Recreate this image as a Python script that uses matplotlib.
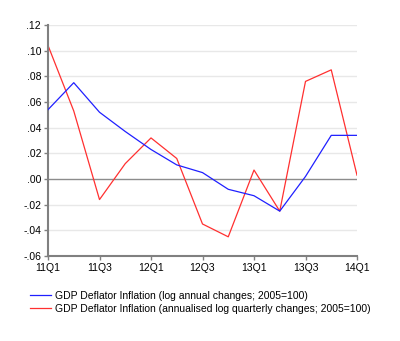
import numpy as np
import matplotlib.pyplot as plt

plt.rcParams['font.family'] = ['Liberation Sans', 'DejaVu Sans']

quarters = ['11Q1', '11Q2', '11Q3', '11Q4', '12Q1', '12Q2', '12Q3',
            '12Q4', '13Q1', '13Q2', '13Q3', '13Q4', '14Q1']
annual = [0.054, 0.075, 0.052, 0.037, 0.023, 0.011, 0.005,
          -0.008, -0.013, -0.025, 0.002, 0.034, 0.034]
quarterly = [0.104, 0.053, -0.016, 0.012, 0.032, 0.016, -0.035,
             -0.045, 0.007, -0.025, 0.076, 0.085, 0.003]
yticks = [-0.06, -0.04, -0.02, 0.00, 0.02, 0.04, 0.06, 0.08, 0.10, 0.12]

def fmt(v):
    s = f'{v:.2f}'
    return s.replace('0.', '.', 1)

fig = plt.figure(figsize=(4, 3.41), dpi=100)
ax = fig.add_axes([0.12, 0.249, 0.7725, 0.678])

x = np.arange(len(quarters))
for v in yticks:
    if v == 0:
        ax.axhline(v, color='#8c8c8c', lw=1.0, zorder=1)
    else:
        ax.axhline(v, color='#e8e8e8', lw=1.0, zorder=0)

l1, = ax.plot(x, annual, color='#2020ff', lw=0.9, zorder=3,
              label='GDP Deflator Inflation (log annual changes; 2005=100)')
l2, = ax.plot(x, quarterly, color='#ff3030', lw=0.9, zorder=2,
              label='GDP Deflator Inflation (annualised log quarterly changes; 2005=100)')

ax.set_xlim(0, len(quarters) - 1)
ax.set_ylim(-0.06, 0.12)
ax.set_xticks(x[::2])
ax.set_xticklabels(quarters[::2])
ax.set_yticks(yticks)
ax.set_yticklabels([fmt(v) for v in yticks])

for s in ['top', 'right']:
    ax.spines[s].set_visible(False)
for s in ['left', 'bottom']:
    ax.spines[s].set_color('#808080')
    ax.spines[s].set_linewidth(1.5)
ax.tick_params(direction='out', length=3, width=1, color='#808080',
               labelsize=7.5, pad=2)

fig.legend(handles=[l1, l2], loc='upper left', bbox_to_anchor=(0.065, 0.16),
           frameon=False, fontsize=7.5, handlelength=2.0, handletextpad=0.4,
           labelspacing=0.3, borderaxespad=0)

fig.savefig('out.png', dpi=100)
